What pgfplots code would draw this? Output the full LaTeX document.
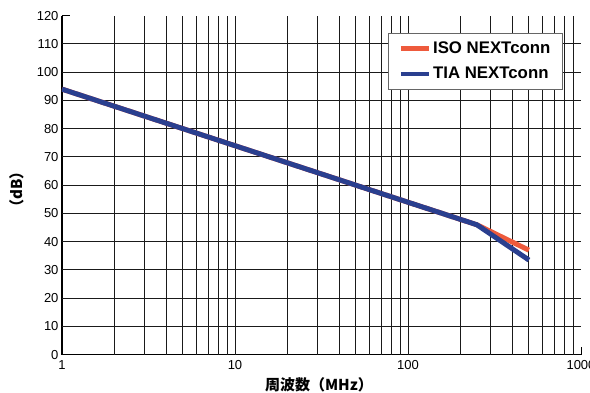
\documentclass[border=0pt]{standalone}
\usepackage{fontspec}
\setmainfont{Liberation Sans}
\newfontfamily\cjk{Noto Sans CJK JP}
\usepackage{pgfplots}
\pgfplotsset{compat=1.18}
\definecolor{isoc}{HTML}{EE5A3C}
\definecolor{tiac}{HTML}{2A3F8F}
\definecolor{gridc}{HTML}{1A1A1A}
\begin{document}
\begin{tikzpicture}
\useasboundingbox (-62pt,-38pt) rectangle (528pt,354.7pt);
\begin{axis}[
  at={(0pt,0pt)}, anchor=south west,
  scale only axis,
  width=519pt, height=339pt,
  xmode=log,
  xmin=1, xmax=1000, ymin=0, ymax=120,
  axis x line*=bottom, axis y line*=left,
  axis line style={line width=1.3pt, black, -},
  tick align=inside,
  major tick length=8pt,
  tick style={line width=1pt, black},
  xtick={1,10,100,1000},
  xticklabels={1,10,100,1000},
  ytick={0,10,...,120},
  minor xtick={},
  extra x ticks={2,3,4,5,6,7,8,9,10,20,30,40,50,60,70,80,90,100,200,300,400,500,600,700,800,900},
  extra x tick labels={},
  extra x tick style={grid=major, major tick length=0pt},
  extra y ticks={10,20,...,110},
  extra y tick labels={},
  extra y tick style={grid=major, major tick length=0pt},
  major grid style={line width=1pt, gridc},
  /pgf/number format/assume math mode=true,
  tick label style={font=\fontsize{13}{13}\selectfont},
  xticklabel style={yshift=-2pt},
  xlabel={\cjk\bfseries 周波数（MHz）},
  ylabel={\cjk\bfseries （dB）},
  label style={font=\fontsize{15}{16}\selectfont},
  xlabel style={at={(axis description cs:0.495,-0.088)}, anchor=center},
  ylabel style={at={(axis description cs:-0.087,0.487)}, anchor=center},
  legend style={at={(axis description cs:0.963,0.95)}, anchor=north east, xshift=1pt,
    draw=black!60, line width=0.8pt, fill=white,
    font=\fontsize{16.8}{19}\selectfont\bfseries,
    inner xsep=10pt, inner ysep=7pt, row sep=8pt,
    legend cell align=left},
  legend image code/.code={\draw[#1, line width=4.5pt] (0cm,0cm) -- (28pt,0cm);},
]
\addplot[isoc, line width=5pt, line join=round] coordinates {(1,94) (250,46) (500,37)};
\addlegendentry{ISO NEXTconn}
\addplot[tiac, line width=5pt, line join=round] coordinates {(1,94) (250,46) (500,33.5)};
\addlegendentry{TIA NEXTconn}
\end{axis}
\end{tikzpicture}
\end{document}
